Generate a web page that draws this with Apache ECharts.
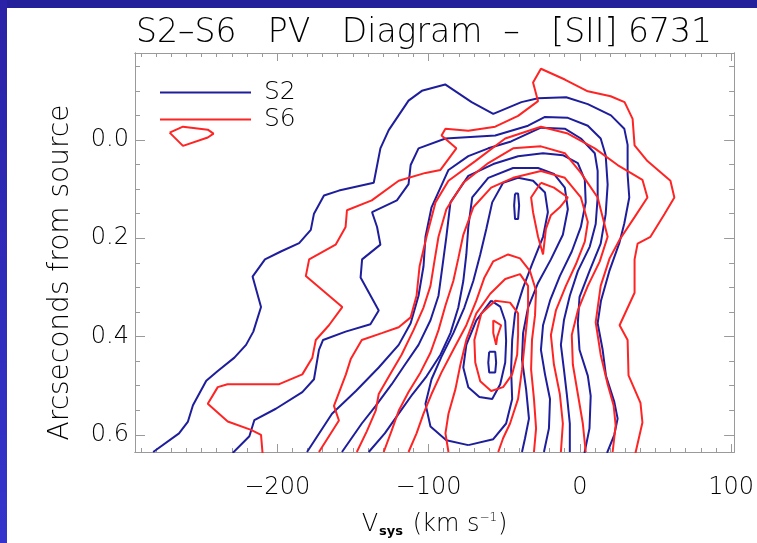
<!DOCTYPE html>
<html>
<head>
<meta charset="utf-8">
<script src="https://cdn.jsdelivr.net/npm/echarts@6/dist/echarts.min.js"></script>
<style>
  html, body { margin: 0; padding: 0; background: #ffffff; }
  #chart { width: 757px; height: 543px; }
</style>
</head>
<body>
<div id="chart"></div>
<script>
// Axis ranges and tick values
const xRange = [-294, 102];
const yRange = [-0.177, 0.635];
const xMajorTicks = [-200, -100, 0, 100];
const xMinorTicks = [];
for (let v = -290; v <= 100; v += 10) if (v % 100 !== 0) xMinorTicks.push(v);
const yMajorTicks = [0.0, 0.2, 0.4, 0.6];
const yMinorTicks = [-0.15, -0.1, -0.05, 0.05, 0.1, 0.15, 0.25, 0.3, 0.35, 0.45, 0.5, 0.55];

// S2 contour paths, outermost level first: [velocity km/s, offset arcsec]
const s2Level1 = [[-282,0.635],[-264.9,0.597],[-259,0.573],[-255.7,0.540],[-246.9,0.490],[-239.3,0.470],[-228.3,0.443],[-220.6,0.417],[-215.8,0.390],[-210.7,0.340],[-216.3,0.278],[-208.1,0.243],[-197.6,0.227],[-185.5,0.210],[-177.8,0.183],[-175.7,0.150],[-169.1,0.113],[-159.2,0.103],[-136.2,0.087],[-131.8,0.017],[-126.3,-0.020],[-113.2,-0.080],[-104.4,-0.100],[-89,-0.113],[-71.5,-0.077],[-57.2,-0.053],[-38.6,-0.077],[-27.6,-0.085],[-9,-0.087],[5.3,-0.073],[20.6,-0.050],[29.4,-0.023],[31.6,0.010],[31.6,0.070],[32.7,0.117],[29.4,0.170],[26.1,0.210],[19.5,0.267],[14,0.327],[11.8,0.373],[15.1,0.427],[17.3,0.480],[22.8,0.533],[25,0.567],[22.8,0.600],[18,0.637]];
const s2Level2 = [[-229.4,0.637],[-218.4,0.603],[-215.1,0.570],[-200.9,0.547],[-183.4,0.513],[-175.7,0.487],[-172.4,0.427],[-169.7,0.407],[-154.8,0.390],[-138.4,0.375],[-132.9,0.347],[-144.9,0.280],[-143.9,0.243],[-131.8,0.213],[-134,0.177],[-137.3,0.147],[-120.9,0.123],[-113.2,0.090],[-111.8,0.051],[-106.6,0.017],[-88.8,-0.003],[-55.9,-0.009],[-34.2,-0.029],[-23,-0.047],[-7.9,-0.045],[5.3,-0.029],[13.8,-0.003],[17.1,0.031],[18.4,0.091],[17.1,0.151],[13.8,0.211],[6.4,0.267],[-0.2,0.320],[-1.3,0.373],[-0.2,0.427],[5.3,0.480],[7.2,0.521],[6.4,0.587],[3.1,0.637]];
const s2Level3 = [[-180.3,0.635],[-163.8,0.557],[-148,0.511],[-132.9,0.463],[-119.7,0.417],[-111.8,0.373],[-106.6,0.317],[-103.3,0.257],[-102,0.197],[-98,0.137],[-86.8,0.061],[-73.7,0.033],[-60.5,0.017],[-45.4,0.003],[-25.7,-0.025],[-9.9,-0.023],[0.7,-0.003],[9.9,0.027],[11.8,0.063],[11.8,0.117],[10.5,0.171],[6.6,0.217],[-1.3,0.267],[-6.6,0.317],[-10.5,0.367],[-12.5,0.417],[-10.5,0.467],[-8.6,0.517],[-6.6,0.577],[-6.6,0.635]];
const s2Level4 = [[-157.2,0.635],[-144.1,0.577],[-134.9,0.541],[-124.3,0.497],[-116.4,0.461],[-106.6,0.417],[-98.7,0.367],[-93.4,0.317],[-90.8,0.257],[-88.2,0.197],[-85.5,0.127],[-73.7,0.073],[-57.2,0.049],[-40.8,0.033],[-24.3,0.027],[-11.2,0.031],[-1.3,0.047],[3.3,0.081],[3.9,0.127],[0.7,0.177],[-5.3,0.227],[-13.2,0.277],[-19.7,0.327],[-24.3,0.377],[-25.7,0.427],[-23,0.477],[-19.7,0.527],[-20.4,0.587],[-23.7,0.635]];
const s2Level5 = [[-139.5,0.635],[-128.9,0.597],[-119.7,0.557],[-110.5,0.517],[-101.3,0.481],[-92.1,0.437],[-85.5,0.393],[-80.3,0.341],[-77,0.287],[-75,0.233],[-73.7,0.177],[-71.1,0.117],[-60.5,0.077],[-44.1,0.057],[-27.6,0.057],[-17.1,0.069],[-9.9,0.097],[-7.9,0.141],[-11.2,0.193],[-19.1,0.243],[-27.6,0.291],[-34.2,0.341],[-37.5,0.393],[-38.2,0.447],[-35.5,0.507],[-33.6,0.567],[-36.2,0.607],[-38.2,0.635]];
const s2Level6 = [[-73.7,0.621],[-88.2,0.611],[-98.7,0.583],[-102,0.537],[-98,0.487],[-91.4,0.441],[-83.6,0.393],[-76.3,0.341],[-70.4,0.287],[-65.8,0.233],[-61.8,0.181],[-57.9,0.127],[-50.7,0.087],[-40.8,0.077],[-30.9,0.083],[-23,0.107],[-21.1,0.147],[-24.3,0.197],[-31.6,0.253],[-37.5,0.301],[-42.8,0.353],[-44.7,0.407],[-45.4,0.467],[-44.7,0.527],[-48.7,0.577],[-57.2,0.609],[-73.7,0.621]];
const s2Level7 = [[-58.6,0.327],[-52.6,0.339],[-49.3,0.369],[-48.7,0.409],[-49.3,0.453],[-52.6,0.497],[-57.9,0.527],[-66.4,0.523],[-73.7,0.503],[-77,0.463],[-75,0.417],[-68.4,0.367],[-58.6,0.327]];
const s2PeakLow = [[-59.9,0.431],[-55.9,0.431],[-55.3,0.453],[-55.9,0.473],[-59.9,0.473],[-60.5,0.453],[-59.9,0.431]];
const s2PeakHigh = [[-42.8,0.109],[-40.8,0.109],[-40.1,0.133],[-40.8,0.161],[-42.8,0.161],[-43.4,0.133],[-42.8,0.109]];

// S6 contour paths
const s6Level1 = [[-209.7,0.637],[-210.7,0.600],[-217.3,0.590],[-232.7,0.573],[-245.9,0.537],[-239.3,0.503],[-232.9,0.497],[-198.7,0.497],[-183.4,0.477],[-176.8,0.443],[-174.5,0.407],[-165.8,0.377],[-157,0.340],[-181.1,0.277],[-178.9,0.243],[-161.4,0.213],[-154.8,0.177],[-153.9,0.143],[-137.5,0.123],[-119.7,0.083],[-102,0.067],[-92.1,0.061],[-81.6,0.017],[-91.4,-0.009],[-88.8,-0.023],[-73.7,-0.019],[-55.9,-0.027],[-40.8,-0.049],[-27.6,-0.079],[-30.9,-0.117],[-25.7,-0.145],[-9.9,-0.123],[5.3,-0.099],[20.4,-0.089],[29.6,-0.077],[34.9,-0.043],[36.2,0.011],[44.7,0.043],[59.9,0.083],[62.5,0.117],[55.9,0.151],[46.7,0.197],[38.2,0.211],[36.2,0.243],[36.2,0.311],[26.3,0.377],[31.6,0.407],[32.2,0.479],[40.1,0.535],[41.4,0.575],[36.8,0.637]];
const s6Island = [[-271.1,-0.015],[-262.3,-0.027],[-245.9,-0.021],[-242.1,-0.013],[-245.9,-0.005],[-262.3,0.012],[-271.1,-0.015]];
const s6Level2 = [[-172.4,0.635],[-159.2,0.571],[-162.5,0.541],[-154.6,0.477],[-151.3,0.445],[-144.1,0.407],[-130.9,0.393],[-119.7,0.381],[-111.8,0.361],[-107.9,0.317],[-105.9,0.257],[-101.3,0.197],[-95.4,0.127],[-86.8,0.083],[-69.1,0.043],[-49.3,-0.003],[-25.7,-0.027],[-7.9,-0.013],[9.9,0.017],[25,0.051],[41.4,0.081],[44.7,0.117],[36.2,0.157],[26.3,0.203],[19.7,0.241],[13.8,0.297],[10.5,0.371],[13.8,0.437],[18.4,0.497],[22.4,0.541],[23.7,0.581],[21.7,0.635]];
const s6Level3 = [[-147.4,0.635],[-140.8,0.593],[-134.9,0.551],[-132.9,0.517],[-124.3,0.471],[-117.8,0.437],[-109.9,0.387],[-103.3,0.341],[-98.7,0.297],[-96.1,0.247],[-93.4,0.197],[-88.2,0.141],[-77,0.087],[-60.5,0.047],[-44.1,0.017],[-25.7,0.013],[-9.9,0.027],[0.7,0.067],[11.8,0.117],[18.4,0.197],[13.2,0.247],[5.3,0.297],[-1.3,0.347],[-5.3,0.397],[-4.6,0.457],[-1.3,0.517],[2,0.577],[3.9,0.635]];
const s6Level4 = [[-129.6,0.635],[-124.3,0.591],[-119.7,0.551],[-113.2,0.513],[-105.3,0.473],[-98.7,0.433],[-93.4,0.387],[-88.8,0.337],[-83.6,0.287],[-80.3,0.241],[-77,0.193],[-70.4,0.137],[-58.6,0.097],[-44.1,0.077],[-25.7,0.063],[-9.9,0.077],[0.7,0.117],[5.3,0.167],[3.3,0.207],[-2.6,0.253],[-9.2,0.297],[-15.8,0.347],[-19.1,0.397],[-17.1,0.457],[-13.2,0.517],[-11.2,0.577],[-12.5,0.635]];
const s6Level5 = [[-113.2,0.635],[-107.9,0.597],[-103.3,0.557],[-98,0.517],[-91.4,0.473],[-83.6,0.427],[-75,0.377],[-68.4,0.327],[-63.2,0.281],[-57.2,0.247],[-47.4,0.233],[-39.5,0.241],[-32.9,0.267],[-28.9,0.307],[-29.6,0.357],[-31.6,0.407],[-32.2,0.467],[-30.3,0.527],[-28.9,0.587],[-30.3,0.635]];
const s6Level5High = [[-25.7,0.087],[-17.1,0.097],[-7.9,0.117],[-13.2,0.137],[-19.1,0.153],[-22.4,0.181],[-24.3,0.233],[-27.6,0.197],[-30.9,0.147],[-32.2,0.117],[-25.7,0.087]];
const s6Level6 = [[-86.8,0.635],[-88.8,0.597],[-86.8,0.557],[-82.2,0.507],[-78.9,0.457],[-75,0.407],[-68.4,0.353],[-59.2,0.313],[-49.3,0.283],[-39.5,0.273],[-34.2,0.297],[-34.2,0.347],[-36.2,0.407],[-38.2,0.467],[-40.8,0.527],[-46.1,0.577],[-50.7,0.607],[-53.9,0.635]];
const s6Level7 = [[-65.1,0.353],[-55.9,0.327],[-46.1,0.331],[-40.8,0.353],[-40.8,0.397],[-41.4,0.437],[-44.7,0.477],[-50.7,0.503],[-58.6,0.511],[-65.8,0.491],[-69.1,0.453],[-69.7,0.407],[-65.1,0.353]];
const s6Peak = [[-57.2,0.367],[-52,0.377],[-54.6,0.401],[-55.3,0.417],[-57.2,0.393],[-57.2,0.367]];

const s2Contours = [s2Level1, s2Level2, s2Level3, s2Level4, s2Level5, s2Level6, s2Level7, s2PeakLow, s2PeakHigh];
const s6Contours = [s6Level1, s6Island, s6Level2, s6Level3, s6Level4, s6Level5, s6Level5High, s6Level6, s6Level7, s6Peak];

const BLUE = '#1e1e9c';
const RED = '#ff2424';
const FONT = 'DejaVu Sans';
const TEXT = '#000000';
const AXIS_GREY = '#9a9a9a';

function contourSeries(name, color, paths) {
  return paths.map(p => ({
    name: name,
    type: 'line',
    data: p,
    showSymbol: false,
    symbol: 'none',
    clip: true,
    lineStyle: { color: color, width: 2 },
    itemStyle: { color: color },
    silent: true,
    animation: false
  }));
}

function tickAxis(kind, pos, ticks, len, labels, extra) {
  const range = kind === 'x' ? xRange : yRange;
  return Object.assign({
    type: 'value',
    position: pos,
    min: range[0],
    max: range[1],
    inverse: kind === 'y',
    splitLine: { show: false },
    axisLine: { show: true, onZero: false, lineStyle: { color: AXIS_GREY, width: 1 } },
    axisTick: { show: true, inside: true, length: len, customValues: ticks, lineStyle: { color: AXIS_GREY, width: 1 } },
    axisLabel: labels ? labels : { show: false }
  }, extra || {});
}

const chart = echarts.init(document.getElementById('chart'), null, { renderer: 'canvas' });

chart.setOption({
  animation: false,
  backgroundColor: '#ffffff',
  title: {
    text: 'S2\u2013S6   PV   Diagram  \u2013   [SII] 6731',
    left: 131, top: 12,
    textStyle: { fontFamily: FONT, fontSize: 33, fontWeight: 300, color: TEXT }
  },
  graphic: [
    { type: 'rect', left: 0, top: 0, shape: { width: 757, height: 8 }, style: { fill: '#241f9a' }, z: 100 },
    { type: 'rect', left: 0, top: 0, shape: { width: 7, height: 543 },
      style: { fill: new echarts.graphic.LinearGradient(0, 0, 0, 1, [{ offset: 0, color: '#2a22a6' }, { offset: 1, color: '#3434cc' }]) }, z: 100 }
  ],
  legend: {
    orient: 'vertical',
    left: 155, top: 75,
    itemWidth: 91, itemHeight: 2,
    itemGap: 2,
    icon: 'rect',
    data: ['S2', 'S6'],
    textStyle: { fontFamily: FONT, fontSize: 25, fontWeight: 300, color: TEXT, padding: [0, 0, 0, 8] }
  },
  grid: { left: 135, top: 53, width: 602, height: 406, containLabel: false },
  xAxis: [
    tickAxis('x', 'bottom', xMajorTicks, 8, {
      show: true, customValues: xMajorTicks, margin: 24,
      fontFamily: FONT, fontSize: 24, fontWeight: 300, color: TEXT,
      formatter: v => String(v).replace('-', '\u2212')
    }, {
      name: '{t|V}{s|sys}{t| (km s}{p|\u22121}{t|)}',
      nameLocation: 'middle', nameGap: 60,
      nameTextStyle: {
        rich: {
          t: { fontFamily: FONT, fontSize: 24, fontWeight: 300, color: TEXT },
          s: { fontFamily: FONT, fontSize: 13, fontWeight: 'bold', color: TEXT, verticalAlign: 'bottom', padding: [13, 2, 0, 1] },
          p: { fontFamily: FONT, fontSize: 12, fontWeight: 300, color: TEXT, verticalAlign: 'top', padding: [0, 1, 11, 0] }
        }
      }
    }),
    tickAxis('x', 'bottom', xMinorTicks, 4, null),
    tickAxis('x', 'top', xMajorTicks, 8, null),
    tickAxis('x', 'top', xMinorTicks, 4, null)
  ],
  yAxis: [
    tickAxis('y', 'left', yMajorTicks, 10, {
      show: true, customValues: yMajorTicks, margin: 6,
      fontFamily: FONT, fontSize: 24, fontWeight: 300, color: TEXT,
      formatter: v => Number(v).toFixed(1)
    }, {
      name: 'Arcseconds from source',
      nameLocation: 'middle', nameRotate: 90, nameGap: 60,
      nameTextStyle: { fontFamily: FONT, fontSize: 28, fontWeight: 300, color: TEXT, padding: [0, 40, 0, 0] }
    }),
    tickAxis('y', 'left', yMinorTicks, 5, null),
    tickAxis('y', 'right', yMajorTicks, 10, null),
    tickAxis('y', 'right', yMinorTicks, 5, null)
  ],
  series: [].concat(
    contourSeries('S2', BLUE, s2Contours),
    contourSeries('S6', RED, s6Contours)
  )
});
</script>
</body>
</html>
